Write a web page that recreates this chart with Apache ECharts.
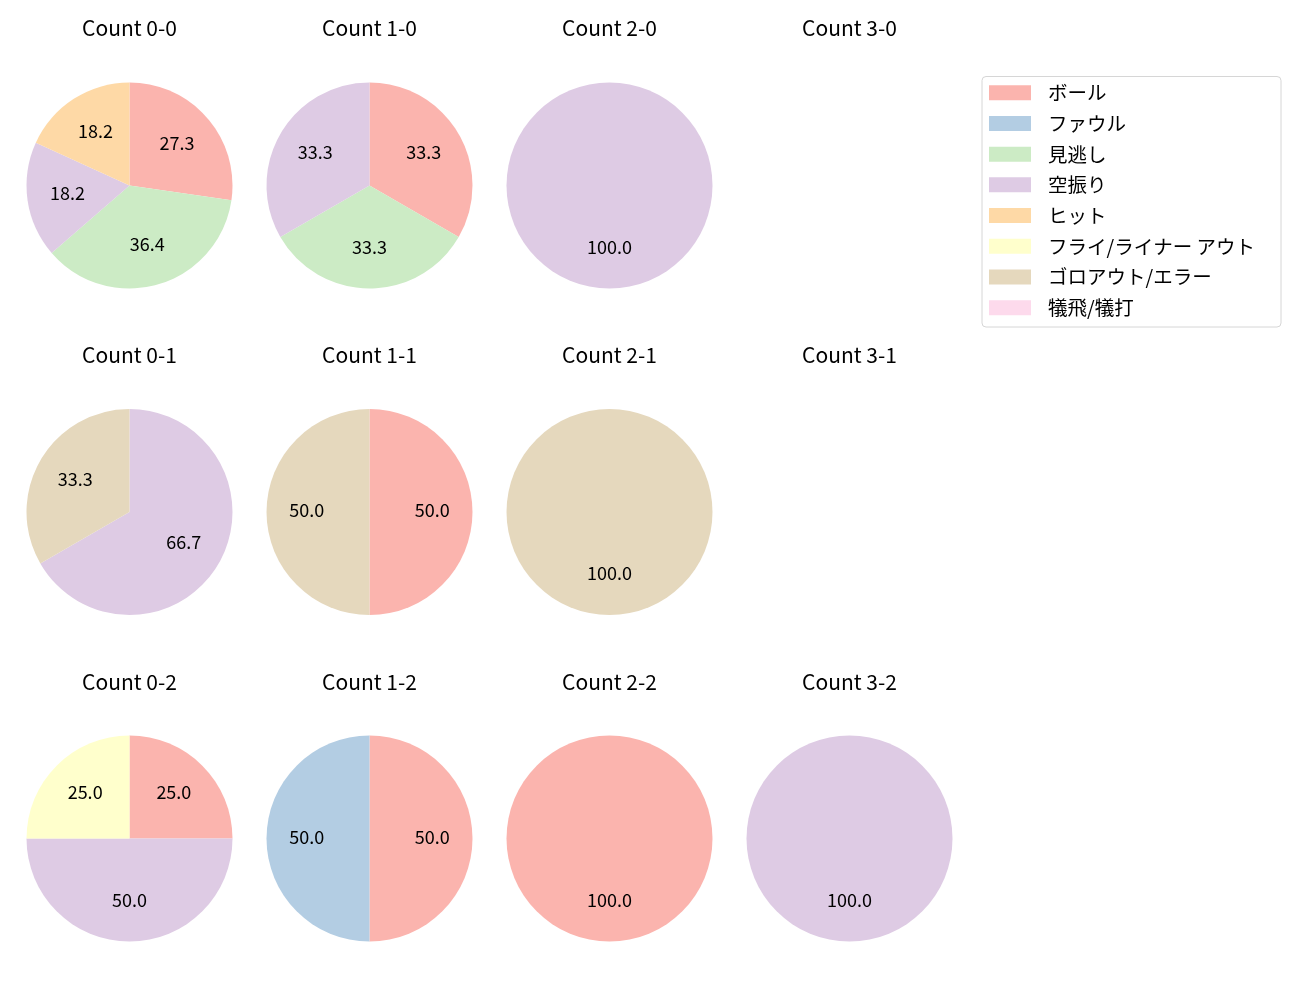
<!DOCTYPE html>
<html><head><meta charset="utf-8">
<script src="https://cdn.jsdelivr.net/npm/echarts@6/dist/echarts.min.js"></script>
<style>html,body{margin:0;padding:0;background:#fff}#c{width:1300px;height:1000px}</style>
</head><body><div id="c"></div>
<script>
const categories = ['ボール','ファウル','見逃し','空振り','ヒット','フライ/ライナー アウト','ゴロアウト/エラー','犠飛/犠打'];
const colors = ['#fbb4ae','#b3cde3','#ccebc5','#decbe4','#fed9a6','#ffffcc','#e5d8bd','#fddaec'];
const panelTitles = ['Count 0-0','Count 1-0','Count 2-0','Count 3-0',
                     'Count 0-1','Count 1-1','Count 2-1','Count 3-1',
                     'Count 0-2','Count 1-2','Count 2-2','Count 3-2'];
// values per category (order as in categories)
const count_0_0 = [3,0,4,2,2,0,0,0];
const count_1_0 = [1,0,1,1,0,0,0,0];
const count_2_0 = [0,0,0,1,0,0,0,0];
const count_3_0 = [0,0,0,0,0,0,0,0];
const count_0_1 = [0,0,0,2,0,0,1,0];
const count_1_1 = [1,0,0,0,0,0,1,0];
const count_2_1 = [0,0,0,0,0,0,1,0];
const count_3_1 = [0,0,0,0,0,0,0,0];
const count_0_2 = [1,0,0,2,0,1,0,0];
const count_1_2 = [1,1,0,0,0,0,0,0];
const count_2_2 = [1,0,0,0,0,0,0,0];
const count_3_2 = [0,0,0,1,0,0,0,0];
const panelValues = [count_0_0,count_1_0,count_2_0,count_3_0,
                     count_0_1,count_1_1,count_2_1,count_3_1,
                     count_0_2,count_1_2,count_2_2,count_3_2];

const colCenters = [129.5, 369.5, 609.5, 849.5];
const rowCenters = [185.5, 512, 838.5];
const titleCenters = [28, 355, 682];
const R = 103;
const FONT = 'Noto Sans CJK JP';

const titles = [];
const visSeries = [];
const labelSeries = [];
panelValues.forEach((vals, i) => {
  const col = i % 4, row = Math.floor(i / 4);
  const cx = colCenters[col], cy = rowCenters[row];
  titles.push({
    text: panelTitles[i], left: cx, top: titleCenters[row] - 12, textAlign: 'center', padding: 0,
    textStyle: { fontFamily: FONT, fontSize: 21, fontWeight: 'normal', color: '#000', lineHeight: 24 }
  });
  const total = vals.reduce((a, b) => a + b, 0);
  if (total === 0) return;
  visSeries.push({
    type: 'pie', center: [cx, cy], radius: [0, R], startAngle: 90, clockwise: true,
    silent: true, animation: false, label: { show: false }, labelLine: { show: false },
    itemStyle: { borderWidth: 0 }, emphasis: { disabled: true },
    data: categories.map((c, k) => ({ name: c, value: vals[k], itemStyle: { color: colors[k] } }))
  });
  labelSeries.push({
    type: 'pie', center: [cx, cy], radius: [16.5, R], startAngle: 90, clockwise: true,
    silent: true, animation: false, avoidLabelOverlap: false, labelLine: { show: false },
    itemStyle: { color: 'rgba(0,0,0,0)', borderWidth: 0 }, emphasis: { disabled: true },
    label: {
      show: true, position: 'inside', fontFamily: FONT, fontSize: 18, color: '#000',
      offset: [0, -1.5],
      formatter: p => (p.value / total * 100).toFixed(1)
    },
    data: categories.map((c, k) => ({ name: c, value: vals[k] })).filter(d => d.value > 0)
  });
});

const chart = echarts.init(document.getElementById('c'), null, { renderer: 'canvas' });
chart.setOption({
  backgroundColor: '#fff',
  animation: false,
  title: titles,
  legend: {
    orient: 'vertical', left: 989, top: 83, padding: 0,
    itemWidth: 42, itemHeight: 15, itemGap: 11.2, icon: 'rect',
    selectedMode: false, z: 5,
    data: categories,
    textStyle: { fontFamily: FONT, fontSize: 19.5, color: '#000', padding: [0, 0, 0, 12] }
  },
  graphic: [{
    type: 'rect', z: 1, shape: { x: 982, y: 76.5, width: 299, height: 250.5, r: 4 },
    style: { fill: 'rgba(255,255,255,0.8)', stroke: '#d6d6d6', lineWidth: 1 }
  }],
  series: visSeries.concat(labelSeries)
});
</script></body></html>
